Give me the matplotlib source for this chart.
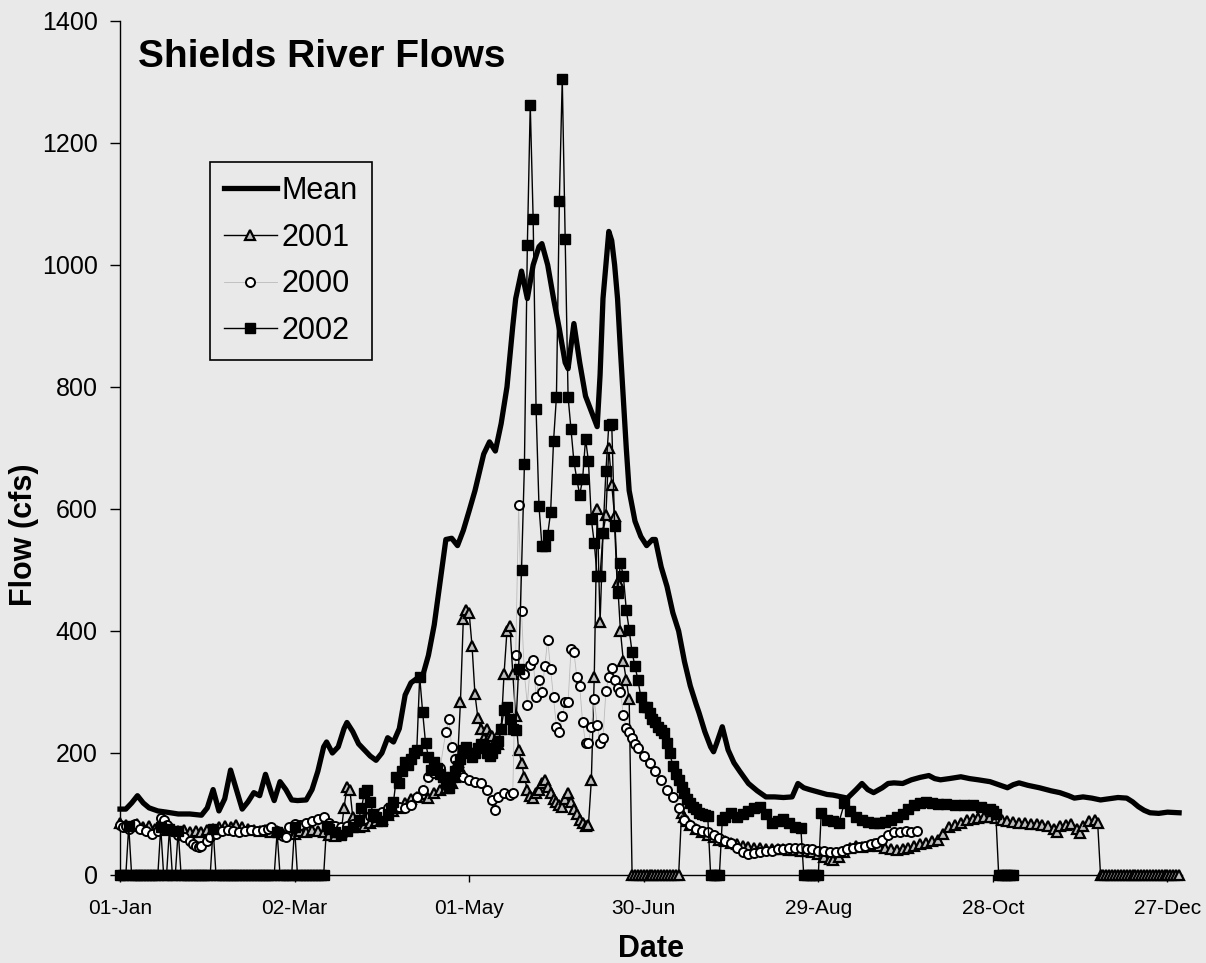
import matplotlib
matplotlib.use('Agg')
import matplotlib.pyplot as plt

plt.rcParams['font.family'] = ['Liberation Sans', 'DejaVu Sans']

BG = '#e9e9e9'

# x axis: day of year (0 = 01-Jan)
tick_days = [0, 60, 120, 180, 240, 300, 360]
tick_labels = ['01-Jan', '02-Mar', '01-May', '30-Jun', '29-Aug', '28-Oct', '27-Dec']
y_ticks = [0, 200, 400, 600, 800, 1000, 1200, 1400]

# (day, flow cfs)
mean_pts = [
    (0, 108), (2, 108), (4, 118), (6, 130), (8, 118), (10, 110), (13, 105), (16, 103), (20, 100),
    (24, 100), (28, 98), (30, 110), (32, 140), (34, 105), (36, 125), (38, 172), (40, 140), (42, 108),
    (44, 120), (46, 135), (48, 130), (50, 165), (52, 135), (53, 122), (55, 153), (57, 140), (59, 123),
    (61, 122), (64, 123), (66, 140), (68, 170), (70, 210), (71, 218), (73, 200), (75, 210), (77, 240),
    (78, 250), (80, 235), (82, 215), (84, 205), (86, 195), (88, 188), (90, 200), (92, 225), (94, 218),
    (96, 240), (98, 295), (100, 315), (102, 322), (104, 326), (106, 360), (108, 410), (110, 480),
    (112, 550), (114, 552), (116, 540), (118, 565), (120, 597), (122, 630), (124, 670), (125, 690),
    (127, 710), (129, 695), (131, 740), (133, 800), (135, 900), (136, 945), (138, 990), (140, 945),
    (142, 1000), (144, 1030), (145, 1035), (147, 1000), (149, 945), (151, 895), (153, 840), (154, 830),
    (156, 904), (158, 840), (160, 785), (162, 760), (164, 735), (165, 820), (166, 945), (167, 1000),
    (168, 1055), (169, 1040), (170, 1000), (171, 945), (172, 860), (173, 780), (174, 700), (175, 630),
    (177, 580), (179, 555), (181, 540), (183, 550), (184, 550), (186, 505), (188, 473), (190, 430),
    (192, 400), (194, 350), (196, 310), (198, 280), (199, 266), (201, 235), (203, 210), (204, 202),
    (205, 215), (207, 243), (209, 205), (211, 184), (213, 170), (216, 150), (219, 138), (222, 128),
    (225, 128), (228, 127), (231, 128), (233, 150), (235, 143), (237, 140), (240, 136), (243, 132),
    (245, 131), (248, 128), (250, 126), (253, 140), (255, 150), (257, 140), (259, 135), (262, 143),
    (264, 150), (266, 151), (269, 150), (272, 156), (275, 160), (278, 163), (280, 158), (282, 156),
    (285, 158), (289, 161), (292, 158), (295, 156), (299, 153), (302, 148), (305, 143), (307, 148),
    (309, 151), (312, 147), (316, 143), (320, 138), (323, 135), (326, 130), (328, 126), (331, 128),
    (334, 126), (337, 123), (340, 125), (343, 127), (346, 126), (348, 120), (350, 112), (352, 106),
    (354, 102), (357, 101), (360, 103), (364, 102)]

yr2001_pts = [
    (0, 85), (2, 82), (4, 80), (6, 84), (8, 78), (10, 80), (12, 76), (14, 78), (16, 74), (18, 76),
    (20, 72), (22, 74), (24, 70), (26, 72), (28, 70), (30, 74), (32, 76), (34, 78), (36, 80), (38, 78),
    (40, 82), (42, 78), (44, 76), (46, 74), (48, 72), (50, 74), (52, 70), (54, 72), (56, 68), (58, 70),
    (60, 68), (62, 72), (64, 70), (66, 74), (68, 72), (70, 70), (72, 66), (74, 64), (76, 70), (77, 110),
    (78, 145), (79, 140), (80, 95), (82, 78), (84, 80), (86, 85), (88, 88), (90, 92), (92, 98), (94, 105),
    (96, 110), (98, 118), (100, 125), (102, 128), (104, 132), (106, 126), (108, 134), (110, 140),
    (112, 143), (114, 150), (115, 160), (116, 185), (117, 283), (118, 420), (119, 435), (120, 430),
    (121, 375), (122, 296), (123, 258), (124, 240), (125, 225), (126, 240), (127, 230), (128, 228),
    (129, 220), (130, 215), (131, 240), (132, 330), (133, 400), (134, 408), (135, 330), (136, 260),
    (137, 205), (138, 184), (139, 160), (140, 140), (141, 130), (142, 126), (143, 135), (144, 140),
    (145, 150), (146, 156), (147, 145), (148, 135), (149, 125), (150, 120), (151, 115), (152, 112),
    (153, 125), (154, 135), (155, 120), (156, 108), (157, 100), (158, 90), (159, 85), (160, 80),
    (161, 82), (162, 156), (163, 325), (164, 600), (165, 414), (166, 560), (167, 590), (168, 700),
    (169, 640), (170, 588), (171, 480), (172, 400), (173, 350), (174, 320), (175, 288),
    (193, 101), (194, 95), (195, 88), (196, 82), (198, 75), (200, 70), (202, 66), (204, 62), (206, 58),
    (208, 55), (210, 52), (212, 50), (214, 48), (216, 46), (218, 45), (220, 44), (222, 43), (224, 43),
    (226, 42), (228, 42), (230, 41), (232, 41), (234, 40), (236, 39), (238, 37), (240, 34), (242, 30),
    (244, 26), (245, 25), (247, 30), (249, 38), (251, 45), (253, 47), (255, 46), (257, 48), (259, 50),
    (261, 48), (263, 45), (265, 43), (267, 41), (269, 42), (271, 44), (273, 47), (275, 50), (277, 52),
    (279, 55), (281, 58), (283, 68), (285, 79), (287, 82), (289, 85), (291, 90), (293, 92), (295, 94),
    (297, 95), (299, 95), (301, 93), (303, 90), (305, 88), (307, 87), (309, 86), (311, 85), (313, 84),
    (315, 83), (317, 82), (319, 80), (321, 75), (322, 71), (323, 80), (325, 82), (327, 84), (329, 75),
    (330, 69), (331, 80), (333, 88), (335, 90), (336, 86)]
yr2001_zero_runs = [(176, 192), (337, 364)]

yr2000_pts = [
    (0, 82), (1, 78), (2, 80), (3, 76), (5, 84), (7, 76), (9, 72), (11, 68), (13, 72), (14, 94),
    (15, 90), (16, 82), (18, 72), (20, 66), (22, 62), (24, 55), (25, 50), (26, 47), (27, 46), (28, 48),
    (30, 55), (31, 62), (33, 68), (35, 72), (37, 74), (39, 72), (41, 70), (43, 72), (45, 74), (47, 72),
    (49, 74), (51, 76), (52, 79), (54, 72), (56, 64), (57, 62), (58, 78), (60, 84), (62, 82), (64, 86),
    (66, 88), (68, 92), (70, 95), (72, 86), (74, 80), (76, 78), (78, 80), (80, 84), (82, 88), (84, 92),
    (86, 96), (88, 100), (90, 104), (92, 110), (94, 116), (96, 112), (98, 110), (100, 115), (102, 128),
    (104, 140), (106, 160), (108, 168), (110, 175), (112, 235), (113, 255), (114, 210), (115, 190),
    (116, 170), (117, 168), (118, 160), (120, 155), (122, 152), (124, 150), (126, 140), (128, 123),
    (129, 107), (130, 128), (132, 135), (134, 131), (135, 135), (136, 361), (137, 606), (138, 432),
    (139, 329), (140, 279), (141, 345), (142, 353), (143, 292), (144, 320), (145, 300), (146, 342),
    (147, 386), (148, 337), (149, 291), (150, 243), (151, 235), (152, 260), (153, 284), (154, 283),
    (155, 370), (156, 366), (157, 325), (158, 309), (159, 250), (160, 217), (161, 217), (162, 243),
    (163, 288), (164, 246), (165, 217), (166, 225), (167, 301), (168, 325), (169, 340), (170, 320),
    (171, 307), (172, 300), (173, 263), (174, 241), (175, 235), (176, 225), (177, 215), (178, 208),
    (180, 195), (182, 184), (184, 170), (186, 156), (188, 140), (190, 128), (192, 110), (194, 90),
    (196, 82), (198, 76), (200, 72), (202, 70), (204, 65), (206, 60), (208, 55), (210, 52), (212, 45),
    (214, 38), (216, 35), (218, 36), (220, 38), (222, 39), (224, 40), (226, 42), (228, 43), (230, 44),
    (232, 45), (234, 44), (236, 43), (238, 42), (240, 40), (242, 39), (244, 38), (246, 38), (248, 40),
    (250, 42), (252, 44), (254, 46), (256, 48), (258, 50), (260, 53), (262, 57), (264, 65), (266, 70),
    (268, 71), (270, 72), (272, 71), (274, 72)]

yr2002_pts = [
    (3, 80), (14, 78), (17, 76), (20, 72), (32, 76), (54, 70), (60, 78),
    (71, 80), (72, 75), (74, 70), (76, 66), (78, 72), (80, 78), (82, 90), (83, 110), (84, 135), (85, 140),
    (86, 120), (87, 100), (88, 95), (90, 88), (92, 100), (93, 110), (94, 120), (95, 160), (96, 150),
    (97, 170), (98, 186), (99, 180), (100, 190), (101, 200), (102, 205), (103, 325), (104, 268),
    (105, 217), (106, 194), (107, 172), (108, 186), (109, 175), (110, 165), (111, 161), (112, 150),
    (113, 143), (114, 160), (115, 170), (116, 178), (117, 190), (118, 205), (119, 210), (120, 200),
    (121, 194), (122, 200), (123, 208), (124, 215), (125, 210), (126, 200), (127, 195), (128, 200),
    (129, 208), (130, 220), (131, 240), (132, 271), (133, 276), (134, 255), (135, 240), (136, 238),
    (137, 337), (138, 500), (139, 673), (140, 1032), (141, 1262), (142, 1075), (143, 764), (144, 605),
    (145, 540), (146, 540), (147, 558), (148, 595), (149, 711), (150, 784), (151, 1105), (152, 1305),
    (153, 1042), (154, 784), (155, 731), (156, 678), (157, 649), (158, 623), (159, 649), (160, 715),
    (161, 678), (162, 583), (163, 544), (164, 490), (165, 490), (166, 560), (167, 662), (168, 738),
    (169, 740), (170, 572), (171, 463), (172, 512), (173, 490), (174, 435), (175, 402), (176, 365),
    (177, 342), (178, 320), (179, 292), (180, 276), (181, 276), (182, 266), (183, 255), (184, 250),
    (185, 243), (186, 238), (187, 233), (188, 217), (189, 200), (190, 178), (191, 165), (192, 156),
    (193, 145), (194, 135), (195, 125), (196, 118), (197, 112), (198, 108), (199, 102), (200, 100),
    (201, 99), (202, 96),
    (207, 90), (208, 95), (210, 101), (212, 95), (214, 100), (216, 105), (218, 110), (220, 112),
    (222, 100), (224, 85), (226, 88), (228, 92), (230, 85), (232, 78), (234, 77),
    (241, 101), (243, 90), (245, 88), (247, 85), (249, 118), (251, 105), (253, 95), (255, 90),
    (257, 87), (259, 85), (261, 86), (263, 87), (265, 90), (267, 95), (269, 100), (271, 108),
    (273, 115), (275, 118), (277, 120), (279, 118), (281, 117), (284, 116), (287, 115), (290, 115),
    (293, 114), (296, 112), (299, 108), (300, 105), (301, 100)]
yr2002_zero_runs = [(0, 2), (4, 13), (15, 16), (18, 19), (21, 31), (33, 53), (55, 59), (61, 70),
                    (203, 206), (235, 240), (302, 307)]


def build(points, zero_runs=()):
    pts = list(points)
    for a, b in zero_runs:
        pts += [(d, 0) for d in range(a, b + 1)]
    pts.sort()
    return [p[0] for p in pts], [p[1] for p in pts]


mean_d, mean_v = build(mean_pts)
d01, v01 = build(yr2001_pts, yr2001_zero_runs)
d00, v00 = build(yr2000_pts)
d02, v02 = build(yr2002_pts, yr2002_zero_runs)

fig = plt.figure(figsize=(12.06, 9.63), dpi=100, facecolor=BG)
ax = fig.add_axes([0.0995, 0.0914, 0.8806, 0.8868], facecolor=BG)

ax.plot(mean_d, mean_v, color='black', lw=3.8, solid_joinstyle='round',
        label='Mean', zorder=3, clip_on=False)
ax.plot(d01, v01, color='black', lw=1.0, marker='^', ms=6.5, mfc='#bdbdbd', mec='black',
        mew=1.6, label='2001', zorder=4, clip_on=False)
ax.plot(d00, v00, color='#bbbbbb', lw=0.6, marker='o', ms=6.5, mfc='white', mec='black',
        mew=1.4, label='2000', zorder=5, clip_on=False)
ax.plot(d02, v02, color='black', lw=1.0, marker='s', ms=6.5, mfc='black', mec='black',
        label='2002', zorder=6, clip_on=False)

ax.set_xlim(0, 365)
ax.set_ylim(0, 1400)
ax.set_xticks(tick_days, tick_labels)
ax.set_yticks(y_ticks)
ax.tick_params(axis='x', labelsize=15, length=5, width=1, pad=12, direction='out')
ax.tick_params(axis='y', labelsize=18, length=7, width=1, pad=9, direction='out')
for s in ['top', 'right']:
    ax.spines[s].set_visible(False)
for s in ['left', 'bottom']:
    ax.spines[s].set_linewidth(1.0)

fig.text(138 / 1206, 1 - 67 / 963, 'Shields River Flows', fontsize=28, fontweight='bold',
         ha='left', va='baseline')
fig.text(651 / 1206, 1 - 949 / 963, 'Date', fontsize=22, fontweight='bold',
         ha='center', va='center')
fig.text(24 / 1206, 1 - 535 / 963, 'Flow (cfs)', fontsize=22, fontweight='bold',
         ha='center', va='center', rotation=90)

leg = ax.legend(loc='upper left', bbox_to_anchor=(210 / 1206, 1 - 162 / 963),
                bbox_transform=fig.transFigure, fontsize=22, frameon=True, fancybox=False,
                edgecolor='black', facecolor=BG, framealpha=1, borderpad=0.45,
                labelspacing=0.55, handlelength=1.75, handletextpad=0.15,
                borderaxespad=0, numpoints=1)
leg.get_frame().set_linewidth(1.2)

fig.savefig('out.png', dpi=100, facecolor=BG)
